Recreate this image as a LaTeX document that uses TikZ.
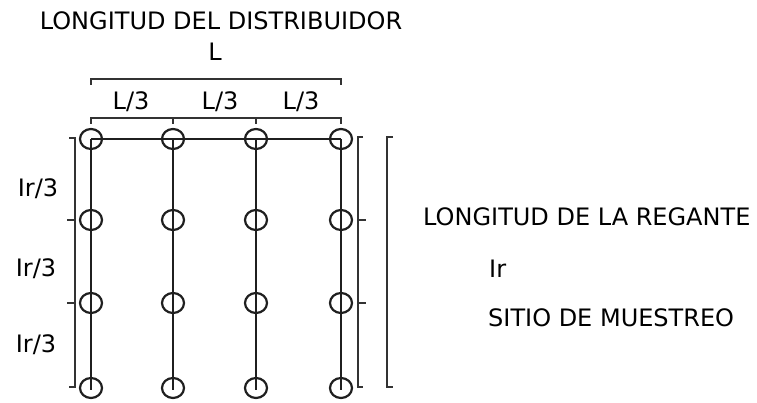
\documentclass[tikz,border=0pt]{standalone}
\usepackage{fontspec}
\setmainfont{DejaVu Sans}
\usetikzlibrary{shapes.geometric}
\begin{document}
\begin{tikzpicture}[x=1pt,y=-1pt,
  ln/.style={line width=2pt,draw=black!88},
  site/.style={ellipse,draw=black!88,line width=2.2pt,minimum width=22pt,minimum height=20pt,inner sep=0pt},
  lbl/.style={inner sep=0pt,font=\fontsize{24}{28}\selectfont,text=black},
  brk/.style={line width=1.8pt,draw=black!80}]
\useasboundingbox (0,0) rectangle (757,403);
% titles
\node[lbl] (tD) at (221,21) {LONGITUD DEL DISTRIBUIDOR};
\node[lbl] (tL) at (215,52) {L};
\node[lbl] (t1) at (131,102) {L/3};
\node[lbl] (t2) at (220,102) {L/3};
\node[lbl] (t3) at (301,102) {L/3};
\node[lbl] (r1) at (38,189) {Ir/3};
\node[lbl] (r2) at (36,269) {Ir/3};
\node[lbl] (r3) at (36,345) {Ir/3};
\node[lbl,anchor=west] (tR) at (423,217) {LONGITUD DE LA REGANTE};
\node[lbl,anchor=west] (tIr) at (489,269) {Ir};
\node[lbl,anchor=west] (tS) at (488,318) {SITIO DE MUESTREO};
% top brackets
\coordinate (bL1) at (91,79); \coordinate (bL2) at (341,79);
\draw[brk] ([yshift=-6pt]bL1) -- (bL1) -- (bL2) -- ([yshift=-6pt]bL2);
\coordinate (s0) at (91,118); \coordinate (s1) at (173,118);
\coordinate (s2) at (256,118); \coordinate (s3) at (341,118);
\draw[brk] ([yshift=-6pt]s0) -- (s0) -- (s3) -- ([yshift=-6pt]s3);
\draw[brk] (s1) -- ([yshift=-6pt]s1);
\draw[brk] (s2) -- ([yshift=-6pt]s2);
% left bracket
\coordinate (lb0) at (75,138); \coordinate (lb1) at (75,220);
\coordinate (lb2) at (75,303); \coordinate (lb3) at (75,387);
\draw[brk] ([xshift=-6pt]lb0) -- (lb0) -- (lb3) -- ([xshift=-6pt]lb3);
\draw[brk] (lb1) -- ([xshift=-8pt]lb1);
\draw[brk] (lb2) -- ([xshift=-8pt]lb2);
% right bracket 1
\coordinate (rb0) at (358,137); \coordinate (rb1) at (358,220);
\coordinate (rb2) at (358,303); \coordinate (rb3) at (358,387);
\draw[brk] ([xshift=5pt]rb0) -- (rb0) -- (rb3) -- ([xshift=5pt]rb3);
\draw[brk] (rb1) -- ([xshift=8pt]rb1);
\draw[brk] (rb2) -- ([xshift=8pt]rb2);
% right bracket 2
\coordinate (qb0) at (387,137); \coordinate (qb3) at (387,387);
\draw[brk] ([xshift=6pt]qb0) -- (qb0) -- (qb3) -- ([xshift=6pt]qb3);
% sites
\foreach \c/\x in {1/91,2/173,3/256,4/341}{
  \foreach \r/\y in {1/139,2/220,3/303,4/388}{
    \node[site] (c\c\r) at (\x,\y) {};
  }
}
% pipes
\draw[ln] (c11.center) -- (c41.center);
\foreach \c in {1,2,3,4}{
  \draw[ln] (c\c1.center) -- ([yshift=-2pt]c\c4.center);
}
\end{tikzpicture}
\end{document}
